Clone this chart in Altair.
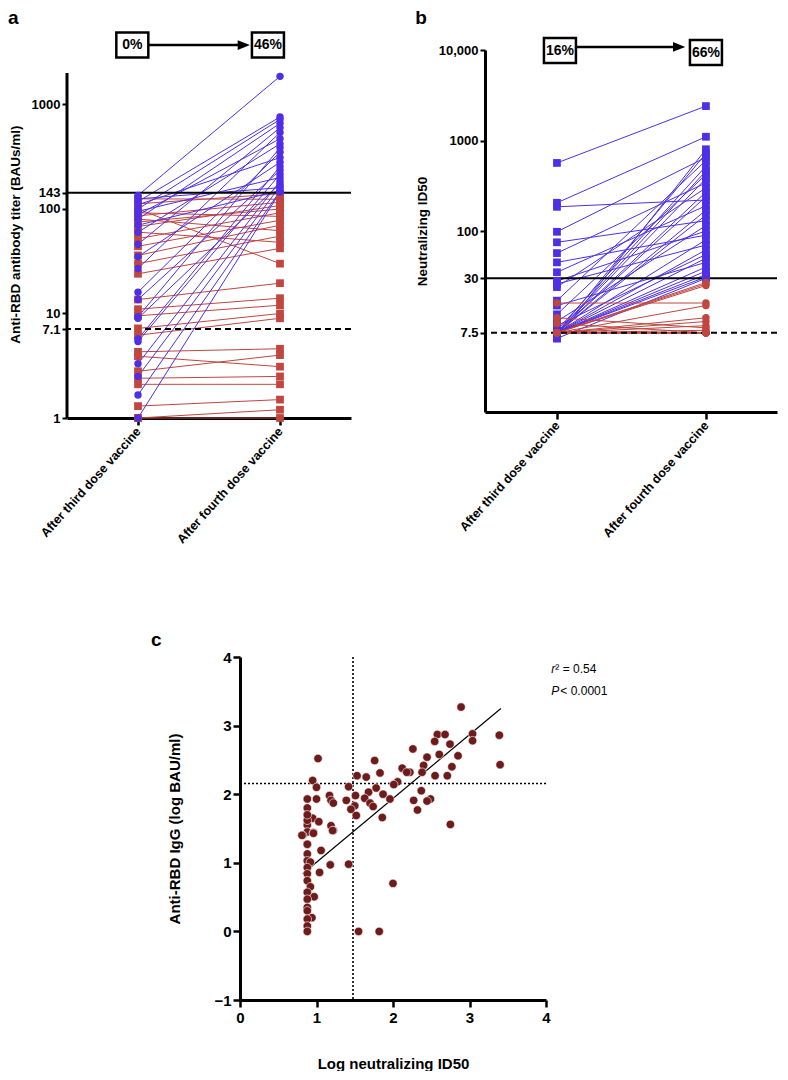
import altair as alt
import pandas as pd

FONT = "Liberation Sans"
BLUE = "#4F2FE6"
RED = "#C0463F"
DARK = "#6E1B1B"

dose_labels = ["After third dose vaccine", "After fourth dose vaccine"]

# ---------------- Panel a : anti-RBD titer (BAUs/ml) ----------------
# blue = 4th-dose titer >= 143, red = below
a_third_blue = [135, 125, 118, 110, 100, 95, 88, 80, 70, 60, 46, 35, 27, 16, 13.6,
                9.3, 9, 5.7, 5.4, 3.3, 2.5, 1.66, 1]
a_fourth_blue = [1860, 160, 760, 310, 720, 200, 470, 660, 150, 420, 600, 280, 540,
                 350, 235, 385, 175, 255, 215, 185, 165, 148, 145]
a_third_red = [125, 112, 100, 92, 86, 80, 75, 68, 60, 52, 44, 36, 30, 24, 13.6, 11,
               9.5, 7.2, 6.2, 4.3, 3.9, 2.8, 2.4, 2.1, 1.3, 1, 1]
a_fourth_red = [124, 140, 30, 85, 116, 62, 100, 108, 48, 92, 78, 70, 55, 42, 19.5,
                14, 12, 10, 9, 4.6, 3.1, 4, 2.5, 2.1, 1.5, 1.2, 1.0]
a_ticks = [1, 7.1, 10, 100, 143, 1000]
a_axis_span = [1, 2000]
a_cutoff = [143]
a_lod = [7.1]
a_box_labels = ["0%", "46%"]
a_box_x = [-0.04, 0.915]
a_box_y = 3700
a_arrow_x = [0.07, 0.745]

# ---------------- Panel b : neutralizing ID50 ----------------
b_third_blue = [565, 205, 185, 98, 75, 57, 45, 35, 28, 26, 24, 17, 15, 12, 10, 9, 8,
                7.5, 7.5, 7.5, 7.5, 7.5, 7.5, 7.5, 7.5, 7.5, 7.5, 7.5, 7.5, 7.5, 7.5,
                6.5, 6.5]
b_fourth_blue = [2400, 1100, 220, 650, 130, 340, 90, 190, 100, 70, 300, 600, 45, 420,
                 115, 55, 520, 720, 460, 380, 270, 240, 170, 150, 80, 62, 50, 40, 36,
                 33, 31, 800, 30]
b_third_red = [16, 11, 9.5, 7.5, 7.5, 7.5, 7.5, 7.5, 7.5, 7.5, 7.5, 7.5, 7.5, 7.5,
               7.5, 7.5, 7.5]
b_fourth_red = [16, 8.5, 7.5, 27, 26, 25, 15, 11, 10, 9, 8, 7.5, 7.5, 7.5, 7.5, 7.5, 7.5]
b_ticks = [7.5, 30, 100, 1000, 10000]
b_cutoff = [30]
b_lod = [7.5]
b_box_labels = ["16%", "66%"]
b_box_x = [0.02, 1.0]
b_box_y = [9870, 9380]
b_arrow_x = [0.134, 0.82]
b_arrow_y = 10800

# ---------------- Panel c : correlation ----------------
c_log_id50 = [2.89, 2.58, 2.68, 2.545, 2.745, 3.04, 3.04, 3.39, 3.40, 2.605, 2.85, 2.445,
              2.77, 2.40, 2.26, 2.12, 2.22, 2.18, 2.38, 2.55, 2.71, 2.06, 2.01, 2.37,
              2.27, 2.49, 2.445, 2.32, 2.75, 1.76, 1.83, 1.65, 1.53, 1.42, 1.78, 1.68,
              1.51, 1.87, 1.96, 1.63, 1.70, 1.74, 1.39, 1.50, 1.45, 1.52, 1.86, 1.02,
              0.95, 1.00, 0.88, 1.00, 1.17, 1.19, 1.22, 0.88, 0.95, 1.03, 1.19, 1.22,
              0.88, 0.88, 0.82, 0.96, 0.88, 0.81, 0.96, 1.21, 0.88, 0.88, 1.06, 0.88,
              0.92, 0.88, 1.04, 1.18, 1.42, 0.88, 0.88, 0.92, 0.88, 0.97, 0.88, 0.88,
              0.88, 0.94, 0.88, 0.88, 0.88, 1.55, 1.82, 2.00, 0.88, 0.88]
c_log_igg = [3.27, 2.87, 2.87, 2.77, 2.73, 2.88, 2.78, 2.86, 2.43, 2.58, 2.56, 2.54,
             2.40, 2.42, 2.66, 2.38, 2.32, 2.32, 2.32, 2.27, 2.27, 2.18, 2.14, 2.05,
             1.91, 1.93, 1.90, 1.77, 1.56, 2.49, 2.31, 2.25, 2.27, 2.11, 2.09, 2.03,
             1.98, 2.00, 1.93, 1.94, 1.87, 1.82, 1.91, 1.83, 1.78, 1.69, 1.66, 2.52,
             2.20, 2.10, 1.93, 1.93, 1.98, 1.91, 1.87, 1.80, 1.65, 1.60, 1.54, 1.47,
             1.55, 1.45, 1.40, 1.44, 1.27, 1.40, 1.43, 1.47, 1.27, 1.13, 1.18, 1.03,
             1.01, 0.93, 0.86, 0.97, 0.98, 0.84, 0.74, 0.65, 0.57, 0.505, 0.47, 0.35,
             0.30, 0.20, 0.18, 0.08, 0.0, 0.0, 0.0, 0.70, 1.62, 1.70]
c_fit_x = [0.82, 3.41]
c_fit_y = [0.84, 3.25]
c_cut_x = [1.477]
c_cut_y = [2.155]
c_note_x = 4.07
c_note_y = [3.82, 3.50]

BOX = "M-1.28,-1H1.28V1H-1.28Z"
ARROW = "M-1,-0.8L1,0L-1,0.8Z"


def pairs(third, fourth, grp, start):
    rows = []
    for i, (t, f) in enumerate(zip(third, fourth)):
        rows.append({"id": start + i, "dose": 0, "value": t, "grp": grp})
        rows.append({"id": start + i, "dose": 1, "value": f, "grp": grp})
    return pd.DataFrame(rows)


label_expr = "datum.value == 0 ? '%s' : '%s'" % (dose_labels[0], dose_labels[1])


def x_dose(domain):
    return alt.X(
        "dose:Q",
        scale=alt.Scale(domain=domain, nice=False, zero=False),
        axis=alt.Axis(values=[0, 1], labelExpr=label_expr, title=None,
                      labelAngle=312, labelAlign="right", labelBaseline="middle",
                      labelFontSize=12.5, labelFontWeight="bold", labelColor="black",
                      labelPadding=4, tickSize=7, tickWidth=2.5, tickColor="black",
                      domainWidth=3, domainColor="black", grid=False,
                      labelOverlap=False, labelFlush=False),
    )


def y_log(domain, ticks, title, expr, tpad, show_domain=True):
    return alt.Y(
        "value:Q",
        scale=alt.Scale(type="log", domain=domain, nice=False),
        axis=alt.Axis(values=ticks, labelExpr=expr, title=title, labelOverlap=False,
                      labelFontSize=13, labelFontWeight="bold", labelColor="black",
                      labelPadding=2, tickSize=5, tickWidth=2, tickColor="black",
                      domain=show_domain, domainWidth=3, domainColor="black",
                      grid=False, titleFontSize=13.5, titleFontWeight="bold",
                      titleColor="black", titlePadding=tpad, labelFlush=False),
    )


def paired_panel(df_blue, df_red, xd, yd, blue_shape, red_shape, red_on_top,
                 cutoff, lod, box_df, arrow_df, head_df, title, title_offset,
                 width, height, extra=None):
    def lines(df, col):
        return alt.Chart(df).mark_line(color=col, strokeWidth=1).encode(
            x=xd, y=yd, detail="id:N")

    def pts(df, col, shape, size):
        return alt.Chart(df).mark_point(shape=shape, filled=True, size=size,
                                        color=col, opacity=1).encode(x=xd, y=yd)

    rule_solid = alt.Chart(pd.DataFrame({"value": cutoff})).mark_rule(
        color="black", strokeWidth=2).encode(y=yd)
    rule_dash = alt.Chart(pd.DataFrame({"value": lod})).mark_rule(
        color="black", strokeWidth=2, strokeDash=[6, 4]).encode(y=yd)
    boxes = alt.Chart(box_df).mark_point(
        shape=BOX, size=625, filled=True, fill="white", stroke="black",
        strokeWidth=2.5, opacity=1).encode(x=xd, y=yd)
    texts = alt.Chart(box_df).mark_text(
        font=FONT, fontSize=14, fontWeight="bold", color="black").encode(
        x=xd, y=yd, text="label:N")
    arrow = alt.Chart(arrow_df).mark_rule(color="black", strokeWidth=2.5).encode(
        x=xd, x2="dose2:Q", y=yd)
    head = alt.Chart(head_df).mark_point(
        shape=ARROW, size=150, filled=True, color="black", opacity=1).encode(x=xd, y=yd)

    blue_size = 55 if blue_shape == "circle" else 60
    red_size = 55 if red_shape == "circle" else 60
    if red_on_top:
        layers = [lines(df_blue, BLUE), lines(df_red, RED), rule_solid, rule_dash,
                  pts(df_blue, BLUE, blue_shape, blue_size),
                  pts(df_red, RED, red_shape, red_size)]
    else:
        layers = [lines(df_red, RED), lines(df_blue, BLUE), rule_solid, rule_dash,
                  pts(df_red, RED, red_shape, red_size),
                  pts(df_blue, BLUE, blue_shape, blue_size)]
    if extra is not None:
        layers.append(extra)
    layers += [arrow, head, boxes, texts]
    return alt.layer(*layers).properties(
        width=width, height=height,
        title=alt.TitleParams(title, anchor="start", fontSize=19, fontWeight="bold",
                              font=FONT, color="black", offset=title_offset))


# ---- panel a
a_blue = pairs(a_third_blue, a_fourth_blue, "blue", 0)
a_red = pairs(a_third_red, a_fourth_red, "red", 100)
xa = x_dose([-0.5, 1.5])
ya = y_log([1, 3323], a_ticks, "Anti-RBD antibody titer (BAUs/ml)",
           "format(datum.value, '')", 9, show_domain=False)
a_box = pd.DataFrame({"dose": a_box_x, "value": [a_box_y] * 2, "label": a_box_labels})
a_arrow = pd.DataFrame({"dose": [a_arrow_x[0]], "dose2": [a_arrow_x[1]],
                        "value": [a_box_y]})
a_head = pd.DataFrame({"dose": [a_arrow_x[1]], "value": [a_box_y]})
a_axis_line = alt.Chart(pd.DataFrame({"dose": [-0.5], "value": [a_axis_span[0]],
                                      "value2": [a_axis_span[1]]})).mark_rule(
    color="black", strokeWidth=3).encode(x=xa, y=ya, y2="value2:Q")
panel_a = paired_panel(a_blue, a_red, xa, ya, "circle", "square", False,
                       a_cutoff, a_lod, a_box, a_arrow, a_head, "a", 0, 284, 368,
                       extra=a_axis_line)

# ---- panel b
b_blue = pairs(b_third_blue, b_fourth_blue, "blue", 200)
b_red = pairs(b_third_red, b_fourth_red, "red", 300)
xb = x_dose([-0.483, 1.477])
yb = y_log([1, 10000], b_ticks, "Neutralizing ID50",
           "datum.value == 10000 ? '10,000' : format(datum.value, '')", 9)
b_box = pd.DataFrame({"dose": b_box_x, "value": b_box_y, "label": b_box_labels})
b_arrow = pd.DataFrame({"dose": [b_arrow_x[0]], "dose2": [b_arrow_x[1]],
                        "value": [b_arrow_y]})
b_head = pd.DataFrame({"dose": [b_arrow_x[1]], "value": [b_arrow_y]})
panel_b = paired_panel(b_blue, b_red, xb, yb, "square", "circle", True,
                       b_cutoff, b_lod, b_box, b_arrow, b_head, "b", 5, 292, 362)

# ---- panel c
c_df = pd.DataFrame({"lx": c_log_id50, "ly": c_log_igg})
axis_c = dict(labelFontSize=15, labelFontWeight="bold", labelColor="black",
              tickSize=7, tickWidth=2.5, tickColor="black", domainWidth=3,
              domainColor="black", grid=False, titleFontSize=15,
              titleFontWeight="bold", titleColor="black", labelFlush=False,
              labelOverlap=False)
xc = alt.X("lx:Q", scale=alt.Scale(domain=[0, 4], nice=False, zero=False),
           axis=alt.Axis(values=[0, 1, 2, 3, 4], title="Log neutralizing ID50",
                         labelPadding=3, titlePadding=31, **axis_c))
yc = alt.Y("ly:Q", scale=alt.Scale(domain=[-1, 4], nice=False, zero=False),
           axis=alt.Axis(values=[-1, 0, 1, 2, 3, 4], title="Anti-RBD IgG (log BAU/ml)",
                         labelPadding=2, titlePadding=31, **axis_c))

c_pts = alt.Chart(c_df).mark_circle(size=72, color=DARK, opacity=1, stroke="white",
                                    strokeWidth=0.6).encode(x=xc, y=yc)
c_fit = alt.Chart(pd.DataFrame({"lx": c_fit_x, "ly": c_fit_y})).mark_line(
    color="black", strokeWidth=1.2).encode(x=xc, y=yc)
c_vline = alt.Chart(pd.DataFrame({"lx": c_cut_x})).mark_rule(
    color="black", strokeWidth=1.6, strokeDash=[2, 2]).encode(x=xc)
c_hline = alt.Chart(pd.DataFrame({"ly": c_cut_y})).mark_rule(
    color="black", strokeWidth=1.6, strokeDash=[2, 2]).encode(y=yc)
note1 = pd.DataFrame({"lx": [c_note_x], "ly": [c_note_y[0]]})
note2 = pd.DataFrame({"lx": [c_note_x], "ly": [c_note_y[1]]})
r_txt = alt.Chart(note1).mark_text(font=FONT, fontSize=12, fontStyle="italic",
                                   align="left", color="black", text="r").encode(x=xc, y=yc)
r_val = alt.Chart(note1).mark_text(font=FONT, fontSize=12, align="left", dx=4,
                                   color="black", text="\u00b2 = 0.54").encode(x=xc, y=yc)
p_txt = alt.Chart(note2).mark_text(font=FONT, fontSize=12, fontStyle="italic",
                                   align="left", color="black", text="P").encode(x=xc, y=yc)
p_val = alt.Chart(note2).mark_text(font=FONT, fontSize=12, align="left", dx=9,
                                   color="black", text="< 0.0001").encode(x=xc, y=yc)

panel_c = alt.layer(c_vline, c_hline, c_fit, c_pts, r_txt, r_val, p_txt, p_val).properties(
    width=306, height=343,
    title=alt.TitleParams("c", anchor="start", fontSize=19, fontWeight="bold",
                          font=FONT, color="black", offset=0, dx=-17))

spacer = alt.Chart(pd.DataFrame({"s": [0]})).mark_point(opacity=0).encode(
    x=alt.X("s:Q", axis=None), y=alt.Y("s:Q", axis=None)).properties(width=83, height=1)

top = alt.hconcat(panel_a, panel_b, spacing=63)
bottom = alt.hconcat(spacer, panel_c, spacing=0)
chart = alt.vconcat(top, bottom, spacing=85).properties(
    padding={"left": 0, "top": 0, "right": 0, "bottom": 0}
).configure(font=FONT).configure_view(stroke=None)

chart.save("out.html", embed_options={"renderer": "svg", "actions": False})
